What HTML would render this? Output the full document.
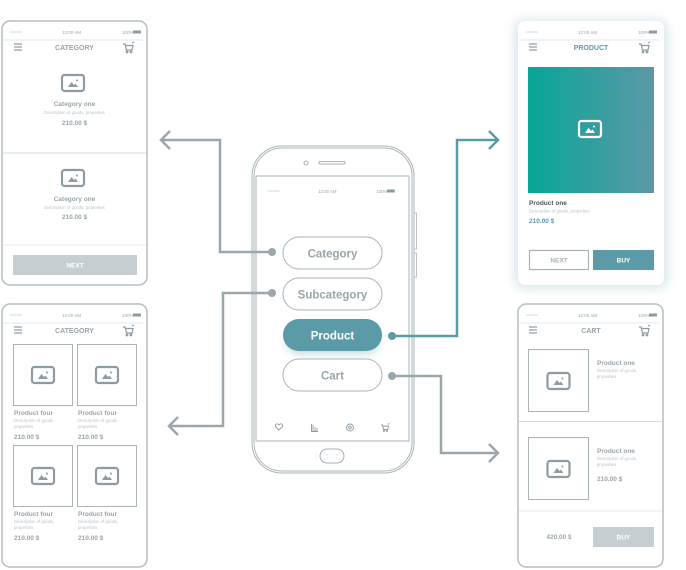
<!DOCTYPE html>
<html><head><meta charset="utf-8"><style>
html,body{margin:0;padding:0;background:#fff;}
svg{display:block;}
text{font-family:"Liberation Sans",sans-serif;}
</style></head><body>
<svg width="686" height="570" viewBox="0 0 686 570" xmlns="http://www.w3.org/2000/svg">
<defs>
  <filter id="sh" x="-20%" y="-20%" width="140%" height="140%"><feGaussianBlur stdDeviation="5"/></filter>
  <filter id="sh2" x="-30%" y="-60%" width="160%" height="220%"><feGaussianBlur stdDeviation="4"/></filter>
  <linearGradient id="g" x1="0" x2="1" y1="0" y2="0"><stop offset="0" stop-color="#07a698"/><stop offset="1" stop-color="#5c98a6"/></linearGradient>
  <g id="img"><rect x="-11" y="-8" width="22" height="16" rx="2.5" fill="none" stroke="#8e9ba2" stroke-width="2.2"/><path d="M-5 4 L-1.5 -1 L1 2 L2.5 0.5 L5 4Z" fill="#8e9ba2"/><circle cx="4" cy="-2.5" r="1" fill="#8e9ba2"/></g>
  <g id="imgw"><rect x="-11" y="-8" width="22" height="16" rx="2.5" fill="none" stroke="#fff" stroke-width="2.2"/><path d="M-5 4 L-1.5 -1 L1 2 L2.5 0.5 L5 4Z" fill="#fff"/><circle cx="4" cy="-2.5" r="1" fill="#fff"/></g>
  <g id="hdr">
    <line x1="10" y1="0" x2="22" y2="0" stroke="#b9c2c6" stroke-width="1" stroke-dasharray="1 0.6"/>
    <text x="62" y="2" font-size="4.5" fill="#9aa5aa">12:00 AM</text>
    <text x="122" y="2" font-size="4.5" fill="#9aa5aa">100%</text>
    <rect x="133" y="-1.5" width="8" height="3" fill="#8e9ba2"/>
    <line x1="3" y1="8" x2="143" y2="8" stroke="#e3e7e9" stroke-width="1"/>
  </g>
  <g id="menu" stroke="#8e9ba2" stroke-width="1.2"><line x1="0" y1="0" x2="8" y2="0"/><line x1="0" y1="3" x2="8" y2="3"/><line x1="0" y1="6" x2="8" y2="6"/></g>
  <g id="cart" fill="none" stroke="#8e9ba2" stroke-width="1.2"><path d="M0 0 H2 L3.5 6 H9 L10 1.5 H2.5"/><circle cx="4" cy="8" r="0.8"/><circle cx="8" cy="8" r="0.8"/><path d="M9 -1 L11 -2"/></g>
</defs>

<!-- center phone -->
<rect x="252" y="146" width="162" height="327" rx="30" fill="#fff" stroke="#aab4b9" stroke-width="1"/>
<rect x="254" y="148" width="158" height="323" rx="28" fill="none" stroke="#aab4b9" stroke-width="1"/>
<rect x="414" y="213" width="2.5" height="36" fill="none" stroke="#aab4b9" stroke-width="0.8"/>
<rect x="414" y="253" width="2.5" height="24" fill="none" stroke="#aab4b9" stroke-width="0.8"/>
<rect x="256" y="176" width="153" height="265" fill="none" stroke="#aab4b9" stroke-width="1"/>
<circle cx="306" cy="163" r="2" fill="none" stroke="#8e9ba2" stroke-width="0.8"/>
<rect x="319" y="161.5" width="26" height="2.5" rx="1.2" fill="none" stroke="#8e9ba2" stroke-width="0.8"/>
<rect x="320" y="449" width="24" height="14" rx="7" fill="none" stroke="#8e9ba2" stroke-width="0.8"/>
<g transform="translate(258,191) scale(0.97,1)">
  <line x1="10" y1="0" x2="22" y2="0" stroke="#b9c2c6" stroke-width="1" stroke-dasharray="1 0.6"/>
  <text x="62" y="2" font-size="4.5" fill="#9aa5aa">12:00 AM</text>
  <text x="122" y="2" font-size="4.5" fill="#9aa5aa">100%</text>
  <rect x="133" y="-1.5" width="8" height="3" fill="#8e9ba2"/>
</g>
<rect x="283" y="237" width="99" height="32" rx="16" fill="#fff" stroke="#a9b3b8" stroke-width="1"/>
<text x="332.5" y="257.5" text-anchor="middle" font-size="11.5" font-weight="bold" fill="#9aa5aa">Category</text>
<rect x="283" y="278" width="99" height="32" rx="16" fill="#fff" stroke="#a9b3b8" stroke-width="1"/>
<text x="332.5" y="298.5" text-anchor="middle" font-size="11.5" font-weight="bold" fill="#9aa5aa">Subcategory</text>
<rect x="285" y="324" width="95" height="30" rx="15" fill="#5b9ba8" opacity="0.35" filter="url(#sh2)"/>
<rect x="283" y="319" width="99" height="32" rx="16" fill="#5b9ba8"/>
<text x="332.5" y="339.5" text-anchor="middle" font-size="11.5" font-weight="bold" fill="#fff">Product</text>
<rect x="283" y="359" width="99" height="32" rx="16" fill="#fff" stroke="#a9b3b8" stroke-width="1"/>
<text x="332.5" y="379.5" text-anchor="middle" font-size="11.5" font-weight="bold" fill="#9aa5aa">Cart</text>
<g fill="none" stroke="#8e9ba2" stroke-width="0.9">
  <path d="M279 430 L275.5 426.5 A1.8 1.8 0 0 1 279 425 A1.8 1.8 0 0 1 282.5 426.5Z"/>
  <path d="M311.5 431 V424 M313 431 V425 M315 431 V427 M317 431 V428 M311 431.5 H318"/>
  <circle cx="350" cy="427.5" r="3.5"/><circle cx="350" cy="427.5" r="1.3"/>
</g>
<g transform="translate(381,425) scale(0.75)"><use href="#cart"/></g>

<!-- connectors -->
<g fill="none" stroke-width="2.5" stroke-linejoin="miter">
  <path d="M272 252 H220 V140 H161" stroke="#9aa7ac"/>
  <path d="M170 131 L161 140 L170 149" stroke="#9aa7ac"/>
  <path d="M272 293 H223 V426 H169" stroke="#9aa7ac"/>
  <path d="M178 417 L169 426 L178 435" stroke="#9aa7ac"/>
  <path d="M392 336 H457 V140 H498" stroke="#5b9ba8"/>
  <path d="M489 131 L498 140 L489 149" stroke="#5b9ba8"/>
  <path d="M392 376 H441 V453 H498" stroke="#9aa7ac"/>
  <path d="M489 444 L498 453 L489 462" stroke="#9aa7ac"/>
</g>
<circle cx="272" cy="252" r="4" fill="#9aa7ac"/>
<circle cx="272" cy="293" r="4" fill="#9aa7ac"/>
<circle cx="392" cy="336" r="4" fill="#5b9ba8"/>
<circle cx="392" cy="376" r="4" fill="#9aa7ac"/>

<!-- top-left screen -->
<rect x="2" y="21" width="145" height="264" rx="8" fill="#fff" stroke="#b3bdc1" stroke-width="1.5"/>
<g transform="translate(0,32)"><use href="#hdr"/></g>
<g transform="translate(14,44)"><use href="#menu"/></g>
<text x="74.5" y="50" text-anchor="middle" font-size="7" font-weight="bold" fill="#9aa5aa">CATEGORY</text>
<g transform="translate(123,44)"><use href="#cart"/></g>
<g transform="translate(73,83)"><use href="#img"/></g>
<text x="74.5" y="106" text-anchor="middle" font-size="6.5" font-weight="bold" fill="#9aa5aa">Category one</text>
<text x="74.5" y="114" text-anchor="middle" font-size="4.3" fill="#b9c2c6">Description of goods, properties</text>
<text x="74.5" y="125" text-anchor="middle" font-size="6.5" font-weight="bold" fill="#9aa5aa">210.00 $</text>
<line x1="3" y1="153" x2="146" y2="153" stroke="#d5dbde"/>
<g transform="translate(73,178)"><use href="#img"/></g>
<text x="74.5" y="201" text-anchor="middle" font-size="6.5" font-weight="bold" fill="#9aa5aa">Category one</text>
<text x="74.5" y="209" text-anchor="middle" font-size="4.3" fill="#b9c2c6">Description of goods, properties</text>
<text x="74.5" y="219" text-anchor="middle" font-size="6.5" font-weight="bold" fill="#9aa5aa">210.00 $</text>
<line x1="3" y1="245" x2="146" y2="245" stroke="#e6eaec"/>
<rect x="13" y="255" width="124" height="20" fill="#c6ced2"/>
<text x="75" y="267.5" text-anchor="middle" font-size="6.5" font-weight="bold" fill="#fff">NEXT</text>

<!-- bottom-left screen -->
<rect x="2" y="304" width="145" height="263" rx="8" fill="#fff" stroke="#b3bdc1" stroke-width="1.5"/>
<g transform="translate(0,315)"><use href="#hdr"/></g>
<g transform="translate(14,327)"><use href="#menu"/></g>
<text x="74.5" y="333" text-anchor="middle" font-size="7" font-weight="bold" fill="#9aa5aa">CATEGORY</text>
<g transform="translate(123,327)"><use href="#cart"/></g>
<g font-size="6.5" font-weight="bold" fill="#9aa5aa">
<rect x="13.5" y="344.5" width="59" height="61" fill="none" stroke="#a9b3b8"/><g transform="translate(43,375)"><use href="#img"/></g>
<rect x="77.5" y="344.5" width="59" height="61" fill="none" stroke="#a9b3b8"/><g transform="translate(107,375)"><use href="#img"/></g>
<text x="14" y="415">Product four</text><text x="78" y="415">Product four</text>
<text x="14" y="439">210.00 $</text><text x="78" y="439">210.00 $</text>
<rect x="13.5" y="445.5" width="59" height="61" fill="none" stroke="#a9b3b8"/><g transform="translate(43,476)"><use href="#img"/></g>
<rect x="77.5" y="445.5" width="59" height="61" fill="none" stroke="#a9b3b8"/><g transform="translate(107,476)"><use href="#img"/></g>
<text x="14" y="516">Product four</text><text x="78" y="516">Product four</text>
<text x="14" y="540">210.00 $</text><text x="78" y="540">210.00 $</text>
</g>
<g font-size="4.3" fill="#b9c2c6">
<text x="14" y="422">Description of goods,</text><text x="14" y="428">properties</text>
<text x="78" y="422">Description of goods,</text><text x="78" y="428">properties</text>
<text x="14" y="523">Description of goods,</text><text x="14" y="529">properties</text>
<text x="78" y="523">Description of goods,</text><text x="78" y="529">properties</text>
</g>

<!-- top-right product -->
<rect x="514" y="19" width="154" height="270" rx="10" fill="#dbe9ec" filter="url(#sh)"/>
<rect x="518" y="21" width="146" height="264" rx="7" fill="#fff"/>
<g transform="translate(516,32)"><use href="#hdr"/></g>
<g transform="translate(529,44)"><use href="#menu"/></g>
<text x="591" y="50" text-anchor="middle" font-size="7" font-weight="bold" fill="#5b9ba8">PRODUCT</text>
<g transform="translate(639,44)"><use href="#cart"/></g>
<rect x="528" y="67" width="126" height="126" fill="url(#g)"/>
<g transform="translate(590,129)"><use href="#imgw"/></g>
<text x="529" y="205" font-size="6.5" font-weight="bold" fill="#4a5357">Product one</text>
<text x="529" y="212.5" font-size="4.3" fill="#b9c2c6">Description of goods, properties</text>
<text x="529" y="223" font-size="6.5" font-weight="bold" fill="#5b9ba8">210.00 $</text>
<rect x="529.5" y="250.5" width="59" height="19" fill="#fff" stroke="#a9b3b8" stroke-width="1.2"/>
<text x="559" y="262.5" text-anchor="middle" font-size="6.5" font-weight="bold" fill="#a9b3b8">NEXT</text>
<rect x="593" y="250" width="61" height="20" fill="#5b9ba8"/>
<text x="623.5" y="262.5" text-anchor="middle" font-size="6.5" font-weight="bold" fill="#fff">BUY</text>

<!-- bottom-right cart -->
<rect x="518" y="304" width="145" height="263" rx="8" fill="#fff" stroke="#b3bdc1" stroke-width="1.5"/>
<g transform="translate(516,315)"><use href="#hdr"/></g>
<g transform="translate(529,327)"><use href="#menu"/></g>
<text x="591" y="333" text-anchor="middle" font-size="7" font-weight="bold" fill="#9aa5aa">CART</text>
<g transform="translate(639,327)"><use href="#cart"/></g>
<rect x="528.5" y="349.5" width="60" height="62" fill="none" stroke="#a9b3b8"/><g transform="translate(558.5,381)"><use href="#img"/></g>
<text x="597" y="365" font-size="6.5" font-weight="bold" fill="#9aa5aa">Product one</text>
<text x="597" y="372" font-size="4.3" fill="#b9c2c6">Description of goods,</text>
<text x="597" y="378" font-size="4.3" fill="#b9c2c6">properties</text>
<line x1="519" y1="421.5" x2="662" y2="421.5" stroke="#d5dbde"/>
<rect x="528.5" y="437.5" width="60" height="62" fill="none" stroke="#a9b3b8"/><g transform="translate(558.5,469)"><use href="#img"/></g>
<text x="597" y="453" font-size="6.5" font-weight="bold" fill="#9aa5aa">Product one</text>
<text x="597" y="460" font-size="4.3" fill="#b9c2c6">Description of goods,</text>
<text x="597" y="466" font-size="4.3" fill="#b9c2c6">properties</text>
<text x="597" y="481" font-size="6.5" font-weight="bold" fill="#9aa5aa">210.00 $</text>
<line x1="519" y1="511" x2="662" y2="511" stroke="#e6eaec"/>
<text x="559" y="539" text-anchor="middle" font-size="6.5" font-weight="bold" fill="#9aa5aa">420.00 $</text>
<rect x="593" y="527" width="61" height="20" fill="#c6ced2"/>
<text x="623.5" y="539.5" text-anchor="middle" font-size="6.5" font-weight="bold" fill="#fff">BUY</text>
</svg>
</body></html>
